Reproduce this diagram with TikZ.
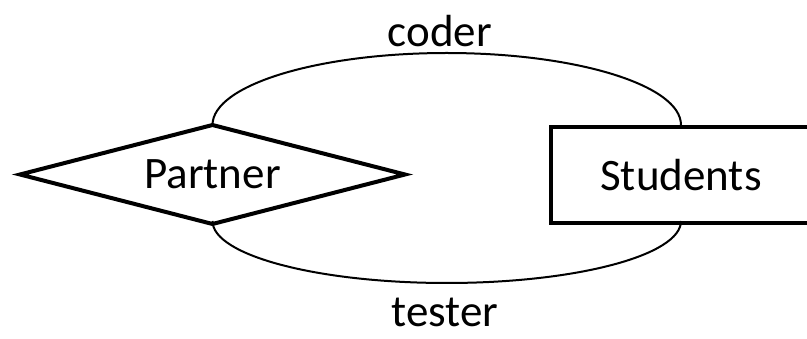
\documentclass[tikz,border=0pt]{standalone}
\usepackage{fontspec}
\setmainfont{Carlito}
\usetikzlibrary{shapes.geometric}
\begin{document}
\begin{tikzpicture}[x=1pt,y=-1pt,
  every node/.style={font=\fontsize{45}{54}\selectfont, inner sep=0pt, outer sep=0pt},
  relation/.style={diamond, aspect=3.9, draw, line width=4pt, line join=miter, minimum width=385pt, minimum height=99pt},
  entity/.style={rectangle, draw, line width=4pt, minimum width=260pt, minimum height=96pt},
  role/.style={line width=2pt},
  rolelabel/.style={anchor=base}]
\useasboundingbox (0,0) rectangle (807,339);
\clip (0,0) rectangle (807,339);
\fill[white] (0,0) rectangle (807,339);

% relationship and entity
\node[relation] (P) at (212.5,174.5) {Partner};
\node[entity] (S) at (681,175) {Students};

% the two roles linking Partner to Students
\draw[role] (P.north) arc[start angle=180, end angle=360, x radius=234.25, y radius=72];
\draw[role] ([yshift=3pt]P.south) arc[start angle=180, end angle=0, x radius=234.25, y radius=62];

% role names
\node[rolelabel] (coder) at (440,47) {coder};
\node[rolelabel] (tester) at (445,327) {tester};
\end{tikzpicture}
\end{document}
